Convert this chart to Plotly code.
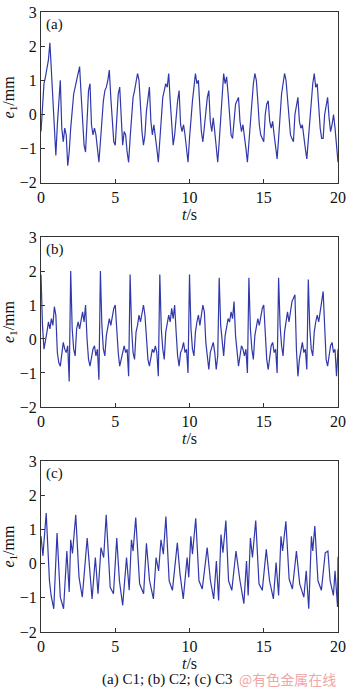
import numpy as np
import plotly.graph_objects as go

# ---------------- data ----------------
t_grid = np.round(np.arange(0, 20.0001, 0.1), 1)  # sampling grid (s) for panels a, b

e_a = [-0.5, 0.3, 0.9, 1.1, 1.3, 1.6, 2.1, 1.2, 0.2, -0.7,
       -1.2, -0.3, 0.5, 1.0, -0.4, -0.8, -0.4, -0.6, -1.5, -1.1,
       -0.4, 0.2, 0.6, 0.8, 1.0, 1.1, 1.4, 0.6, -0.4, -0.9,
       -1.1, -0.1, 0.7, 0.9, -0.3, -0.6, -0.4, -0.6, -1.0, -1.4,
       -0.8, -0.1, 0.4, 0.7, 0.8, 1.0, 1.3, 0.5, -0.3, -0.8,
       -0.9, 0.0, 0.6, 0.8, -0.3, -0.9, -0.5, -0.6, -1.1, -1.4,
       -0.7, 0.0, 0.5, 0.7, 0.9, 1.2, 1.0, 0.2, -0.5, -0.9,
       -0.6, 0.1, 0.5, 0.8, -0.2, -0.6, -0.3, -0.6, -1.0, -1.4,
       -0.7, 0.0, 0.5, 0.7, 0.9, 0.8, 1.2, 0.4, -0.4, -0.9,
       -0.6, 0.0, 0.4, 0.7, -0.3, -0.5, -0.3, -0.6, -1.0, -1.4,
       -0.7, -0.1, 0.4, 0.8, 1.2, 0.9, 1.0, 0.2, -0.5, -0.8,
       -0.3, 0.2, 0.5, 0.7, -0.2, -0.5, -0.1, -0.5, -1.0, -1.4,
       -0.8, -0.1, 0.5, 1.2, 0.9, 1.1, 0.6, -0.2, -0.6, -0.7,
       -0.1, 0.3, 0.4, 0.5, -0.2, -0.5, -0.3, -0.6, -1.0, -1.4,
       -0.8, 0.0, 0.5, 0.9, 1.2, 1.0, 0.4, -0.3, -0.6, -0.7,
       -0.8, 0.0, 0.3, 0.4, -0.2, -0.4, -0.2, -0.6, -1.0, -1.3,
       -0.7, 0.0, 0.6, 0.9, 1.2, 1.0, 0.5, -0.2, -0.6, -0.7,
       -0.8, 0.0, 0.3, 0.5, -0.2, -0.4, -0.3, -0.7, -1.0, -1.3,
       -0.7, 0.0, 0.6, 0.9, 1.2, 0.8, 0.9, 0.2, -0.4, -0.7,
       -0.7, 0.0, 0.3, 0.5, -0.1, -0.5, -0.3, 0.0, -0.4, -1.0,
       -1.4]

e_b = [1.9, 0.4, -0.3, -0.1, 0.2, 0.5, 0.3, 0.6, 0.4, 0.95,
       0.7, -0.4, -0.7, -0.8, -0.5, -0.1, -0.3, -0.4, -0.2, -1.25,
       2.0, 0.3, -0.3, -0.5, 0.3, 0.5, 0.3, 0.6, 0.8, 0.5,
       1.0, 0.0, -0.6, -0.8, -0.5, -0.3, -0.2, -0.5, -0.3, -1.2,
       2.0, 0.4, -0.3, -0.5, 0.1, 0.4, 0.6, 0.4, 0.7, 0.9,
       1.0, 0.2, -0.4, -0.8, -0.6, -0.4, -0.2, -0.4, -0.3, -1.1,
       1.9, 0.3, -0.4, -0.6, 0.2, 0.4, 0.7, 0.5, 0.8, 1.0,
       0.7, 0.0, -0.6, -0.8, -0.5, -0.3, -0.4, -0.2, -0.4, -1.1,
       1.9, 0.3, -0.3, -0.6, 0.2, 0.4, 0.7, 0.5, 0.9, 0.6,
       1.0, 0.2, -0.5, -0.8, -0.4, -0.3, -0.1, -0.4, -0.3, -1.0,
       1.9, 0.3, -0.3, -0.5, 0.2, 0.5, 0.7, 0.4, 0.8, 1.0,
       0.8, -0.1, -0.5, -0.9, -0.4, -0.2, -0.1, -0.4, -0.9, -0.5,
       1.8, 0.4, -0.2, -0.5, 0.1, 0.4, 0.6, 0.5, 0.8, 0.6,
       1.1, 0.1, -0.5, -0.8, -0.5, -0.2, -0.3, -0.5, -0.3, -1.0,
       1.8, 0.3, -0.3, -0.6, 0.1, 0.4, 0.6, 0.4, 0.7, 0.9,
       1.0, 0.0, -0.6, -0.9, -0.5, -0.2, -0.1, -0.4, -0.3, -1.0,
       1.8, 0.4, -0.2, -0.5, 0.2, 0.5, 0.8, 0.5, 0.9, 1.1,
       1.2, 1.3, -0.3, -1.1, -0.6, -0.3, -0.1, -0.4, -0.3, -0.9,
       1.75, 0.3, -0.3, -0.5, 0.2, 0.5, 0.7, 0.5, 0.9, 1.1,
       1.4, 0.3, -0.6, -0.8, -0.4, -0.2, -0.1, -0.4, -0.3, -1.1,
       -0.3]

t_c = [0.0, 0.13, 0.35, 0.57, 0.68, 0.86, 1.08, 1.3, 1.52, 1.74,
       1.9, 2.0, 2.12, 2.34, 2.56, 2.78, 3.11, 3.29, 3.44, 3.66,
       3.84, 4.04, 4.22, 4.39, 4.66, 4.88, 5.1, 5.28, 5.5, 5.76,
       5.94, 6.09, 6.2, 6.38, 6.64, 6.91, 7.1, 7.31, 7.57, 7.75,
       7.92, 8.08, 8.24, 8.41, 8.63, 8.85, 9.18, 9.36, 9.58, 9.84,
       9.95, 10.09, 10.2, 10.42, 10.64, 10.86, 11.19, 11.41, 11.63, 11.81,
       11.96, 12.12, 12.25, 12.45, 12.63, 12.85, 13.13, 13.4, 13.66, 13.84,
       13.95, 14.1, 14.24, 14.46, 14.68, 14.9, 15.17, 15.39, 15.65, 15.83,
       16.0, 16.16, 16.27, 16.49, 16.71, 16.93, 17.2, 17.42, 17.7, 17.86,
       18.03, 18.21, 18.3, 18.44, 18.65, 18.88, 19.14, 19.32, 19.47, 19.69,
       19.8, 19.97, 20.0]
e_c = [0.8, 0.23, 1.48, -0.5, -0.93, -1.32, 0.9, -0.98, -1.32, 0.37,
       -0.83, 0.7, 0.3, 1.43, -0.4, -0.98, 0.75, -0.4, -1.03, 0.18,
       -0.88, 0.47, 0.18, 1.43, -0.69, -0.88, 0.75, -0.5, -1.22, 0.18,
       -0.78, 0.7, 0.37, 1.35, -0.59, -0.88, 0.6, -0.5, -1.03, 0.18,
       -0.21, 0.7, 0.28, 1.38, -0.5, -0.78, 0.61, -0.3, -1.03, 0.18,
       -0.4, 0.8, 0.28, 1.33, -0.5, -0.74, 0.47, -0.5, -1.03, 0.08,
       -1.08, 0.85, 0.32, 1.26, -0.5, -0.78, 0.37, -0.5, -1.17, 0.08,
       -0.93, 0.75, 0.18, 1.26, -0.59, -0.78, 0.42, -0.5, -1.03, 0.03,
       -0.93, 0.8, 0.37, 1.24, -0.45, -0.74, 0.37, -0.59, -0.98, -0.21,
       -1.32, 0.8, 0.37, 1.1, -0.5, -0.78, 0.32, 0.37, -0.5, -0.93,
       -0.21, -1.27, 0.2]

assert len(e_a) == len(t_grid) and len(e_b) == len(t_grid) and len(t_c) == len(e_c)

panel_labels = ["(a)", "(b)", "(c)"]
x_ticks = [0, 5, 10, 15, 20]
y_ticks = [-2, -1, 0, 1, 2, 3]
caption = "(a) C1; (b) C2; (c) C3"
watermark = "@有色金属在线"

# ---------------- figure ----------------
W, H = 350, 687
ML, MR, MT, MB = 41, 7, 4, 55
plot_h = H - MT - MB

def dom(top_px, bot_px):
    return [(H - MB - bot_px) / plot_h, (H - MB - top_px) / plot_h]

domains = [dom(4, 177), dom(232, 404), dom(459, 632)]
series = [(t_grid, e_a), (t_grid, e_b), (t_c, e_c)]

FONT = "Liberation Serif, Times New Roman, serif"
LINE = "#3038aa"
AX = "#333333"
TXT = "#111111"

fig = go.Figure()
for i, ((tx, ey), d) in enumerate(zip(series, domains)):
    n = "" if i == 0 else str(i + 1)
    fig.add_trace(go.Scatter(x=tx, y=ey, mode="lines",
                             line=dict(color=LINE, width=1.2),
                             xaxis="x" + n, yaxis="y" + n, showlegend=False))
    fig.layout["xaxis" + n] = dict(
        domain=[0, 1], anchor="y" + n, range=[0, 20], tickvals=x_ticks,
        ticks="inside", ticklen=4, tickcolor=AX, showline=True, linecolor=AX,
        linewidth=1, mirror=True, showgrid=False, zeroline=False,
        ticklabeloverflow="allow",
        tickfont=dict(family=FONT, size=16, color=TXT),
        title=dict(text="<i>t</i>/s", font=dict(family=FONT, size=16, color=TXT), standoff=1))
    fig.layout["yaxis" + n] = dict(
        domain=d, anchor="x" + n, range=[-2, 3], tickvals=y_ticks,
        ticks="inside", ticklen=4, tickcolor=AX, showline=True, linecolor=AX,
        linewidth=1, mirror=True, showgrid=False, zeroline=False,
        ticklabeloverflow="allow",
        tickfont=dict(family=FONT, size=16, color=TXT),
        title=dict(text="<i>e</i><sub>1</sub>/mm", font=dict(family=FONT, size=16, color=TXT), standoff=3))
    fig.add_annotation(text=panel_labels[i], xref="x" + n + " domain", yref="y" + n + " domain",
                       x=0.01, y=0.99, xanchor="left", yanchor="top", showarrow=False,
                       font=dict(family=FONT, size=15, color=TXT))

cap_y = (H - MB - 680) / plot_h
fig.add_annotation(text=caption, xref="paper", yref="paper", x=0.20, y=cap_y,
                   xanchor="left", yanchor="middle", showarrow=False,
                   font=dict(family=FONT, size=15, color=TXT))
fig.add_annotation(text=watermark, xref="paper", yref="paper", x=1.0, y=cap_y,
                   xanchor="right", yanchor="middle", showarrow=False,
                   font=dict(family="Noto Sans CJK SC", size=14, color="#f2a6a6"))

fig.update_layout(width=W, height=H, margin=dict(l=ML, r=MR, t=MT, b=MB),
                  paper_bgcolor="white", plot_bgcolor="white")
fig.write_html("out.html")
